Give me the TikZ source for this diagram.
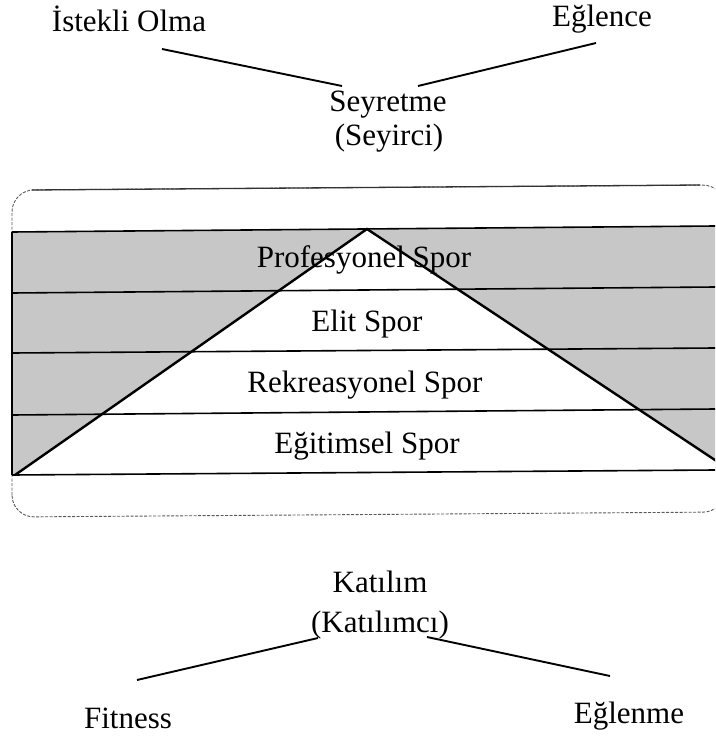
\documentclass[tikz,border=0pt]{standalone}
\usepackage{fontspec}
\setmainfont{Liberation Serif}
\begin{document}
\begin{tikzpicture}[x=1pt,y=-1pt,
  lbl/.style={inner sep=0pt, anchor=base, font=\fontsize{31}{35}\selectfont},
  conn/.style={line width=1.9pt, black},
  band/.style={line width=1.6pt, black},
  pyr/.style={line width=2.4pt, black, line join=miter},
  shade/.style={fill=black!22}]
\useasboundingbox (0,0) rectangle (715,738);
\clip (0,0) rectangle (715,738);
% outer rounded frame
\draw[black!65, line width=0.9pt, dash pattern=on 3pt off 1.5pt, rounded corners=22]
  (12,517) -- (12,190) -- (725,185) -- (725,512) -- cycle;
\draw[black!80, line width=1.3pt] (32,190) -- (700,185);
% shaded region outside the pyramid
\fill[shade, even odd rule] (12,232) -- (715,226) -- (715,470) -- (12,475) -- cycle
  (367,229) -- (15,475) -- (730,470) -- cycle;
% band lines
\draw[band] (12,232) -- (715,226);
\draw[band] (12,293) -- (715,287);
\draw[band] (12,353) -- (715,348);
\draw[band] (12,415) -- (715,409);
\draw[band] (12,475) -- (715,470);
\draw[line width=1.6pt] (12,232) -- (12,475);
% pyramid
\coordinate (apex) at (367,229);
\coordinate (bl) at (15,475);
\coordinate (br) at (730,470);
\draw[pyr] (bl) -- (apex) -- (br);
% level labels
\node[lbl] (prof) at (364,267) {Profesyonel Spor};
\node[lbl] (elit) at (367,331) {Elit Spor};
\node[lbl] (rekr) at (365,392) {Rekreasyonel Spor};
\node[lbl] (egit) at (367,453) {Eğitimsel Spor};
% top
\node[lbl] (ist) at (129,32) {İstekli Olma};
\node[lbl] (egl) at (602,27) {Eğlence};
\node[lbl] (sey) at (388,112) {Seyretme};
\node[lbl] (seyc) at (389,146) {(Seyirci)};
\coordinate (t1) at (162,49);
\coordinate (t2) at (342,86);
\coordinate (t3) at (418,86);
\coordinate (t4) at (596,43);
\draw[conn] (t1) -- (t2);
\draw[conn] (t3) -- (t4);
% bottom
\node[lbl] (kat) at (380,592) {Katılım};
\node[lbl] (katc) at (380,632) {(Katılımcı)};
\node[lbl] (fit) at (128,728) {Fitness};
\node[lbl] (eglm) at (629,723) {Eğlenme};
\coordinate (b1) at (318,638);
\coordinate (b2) at (137,680);
\coordinate (b3) at (427,637);
\coordinate (b4) at (610,676);
\draw[conn] (b1) -- (b2);
\draw[conn] (b3) -- (b4);
\end{tikzpicture}
\end{document}
